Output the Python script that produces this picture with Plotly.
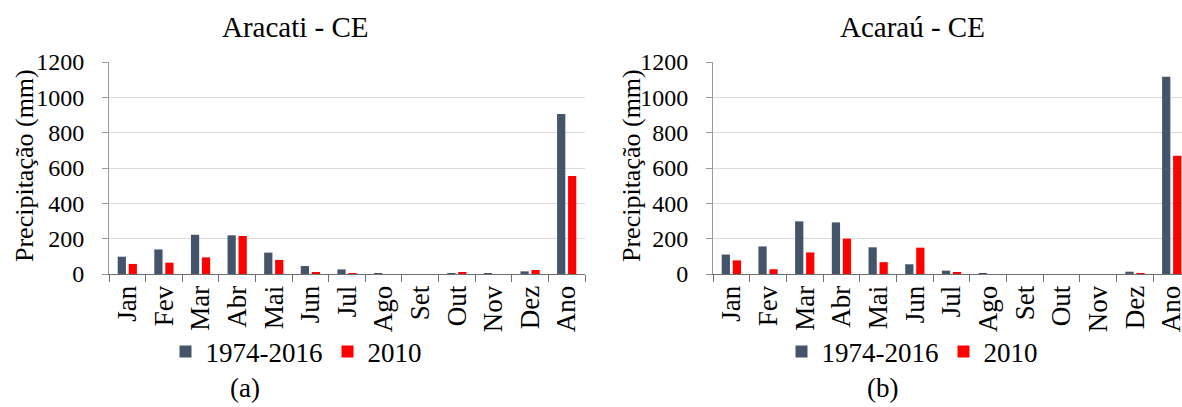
import plotly.graph_objects as go

months = ["Jan", "Fev", "Mar", "Abr", "Mai", "Jun", "Jul", "Ago", "Set", "Out", "Nov", "Dez", "Ano"]
series_names = ["1974-2016", "2010"]
aracati_normal = [98, 139, 222, 219, 121, 45, 26, 3, 0, 2, 2, 15, 906]
aracati_2010 = [57, 64, 94, 215, 80, 6, 1, 0, 0, 9, 0, 23, 555]
acarau_normal = [110, 156, 298, 292, 151, 55, 19, 1, 0, 0, 0, 13, 1116]
acarau_2010 = [77, 27, 122, 200, 67, 149, 11, 0, 0, 0, 0, 5, 670]
titles = ["Aracati - CE", "Acaraú - CE"]
captions = ["(a)", "(b)"]
y_ticks = [0, 200, 400, 600, 800, 1000, 1200]

NAVY = "#44546A"
RED = "#FF0000"
FONT = "Liberation Serif"
W, H = 1182, 407

def px(x):
    return x / W

def py(y):
    return 1 - y / H

fig = go.Figure()
for vals, name, col in [(aracati_normal, series_names[0], NAVY), (aracati_2010, series_names[1], RED)]:
    fig.add_trace(go.Bar(x=months, y=vals, name=name, marker_color=col, marker_line_width=0,
                         xaxis="x", yaxis="y", legend="legend"))
for vals, name, col in [(acarau_normal, series_names[0], NAVY), (acarau_2010, series_names[1], RED)]:
    fig.add_trace(go.Bar(x=months, y=vals, name=name, marker_color=col, marker_line_width=0,
                         xaxis="x2", yaxis="y2", legend="legend2"))

xcommon = dict(type="category", tickangle=-90, tickson="boundaries", ticks="outside", ticklen=7,
               tickcolor="#6F6F6F", showline=True, linecolor="#6F6F6F", linewidth=1, automargin=False,
               showgrid=False, tickfont=dict(family=FONT, size=27, color="#000"), fixedrange=True)
ycommon = dict(range=[0, 1200], tickvals=y_ticks, ticks="outside", ticklen=6, tickcolor="#9A9A9A",
               showline=True, linecolor="#9A9A9A", linewidth=1, showgrid=True, gridcolor="#DCDCDC",
               gridwidth=1, zeroline=False, tickfont=dict(family=FONT, size=24, color="#000"),
               ticklabelstandoff=13, automargin=False, fixedrange=True)

yd = [py(274), py(62)]
fig.update_layout(
    template="none",
    width=W, height=H, margin=dict(l=0, r=0, t=0, b=0, autoexpand=False),
    paper_bgcolor="white", plot_bgcolor="white",
    barmode="group", bargap=0.4, bargroupgap=0.25,
    xaxis=dict(domain=[px(109), px(585)], range=[-0.5, 12.5], anchor="y", **xcommon),
    yaxis=dict(domain=yd, anchor="x", **ycommon),
    xaxis2=dict(domain=[px(713), 1.0], range=[-0.5, 12.28], anchor="y2", **xcommon),
    yaxis2=dict(domain=yd, anchor="x2", **ycommon),
    legend=dict(orientation="h", x=px(296), xanchor="center", y=py(352), yanchor="middle",
                font=dict(family=FONT, size=27, color="#000"), itemwidth=30, tracegroupgap=0,
                bgcolor="rgba(0,0,0,0)"),
    legend2=dict(orientation="h", x=px(912), xanchor="center", y=py(352), yanchor="middle",
                 font=dict(family=FONT, size=27, color="#000"), itemwidth=30, tracegroupgap=0,
                 bgcolor="rgba(0,0,0,0)"),
    showlegend=True,
)

ann = []
for t, xc in zip(titles, [295, 912]):
    ann.append(dict(text=t, x=px(xc), y=py(27), xref="paper", yref="paper", showarrow=False,
                    xanchor="center", yanchor="middle", font=dict(family=FONT, size=29, color="#000")))
for xc in [25, 632]:
    ann.append(dict(text="Precipitação (mm)", x=px(xc), y=py(166), xref="paper", yref="paper",
                    showarrow=False, textangle=-90, xanchor="center", yanchor="middle",
                    font=dict(family=FONT, size=26, color="#000")))
for c, xc in zip(captions, [245, 882]):
    ann.append(dict(text=c, x=px(xc), y=py(388), xref="paper", yref="paper", showarrow=False,
                    xanchor="center", yanchor="middle", font=dict(family=FONT, size=27, color="#000")))
fig.update_layout(annotations=ann)

fig.write_html("out.html", config={"displayModeBar": False},
               post_script="document.body.style.margin='0px';document.body.style.overflow='hidden';")
